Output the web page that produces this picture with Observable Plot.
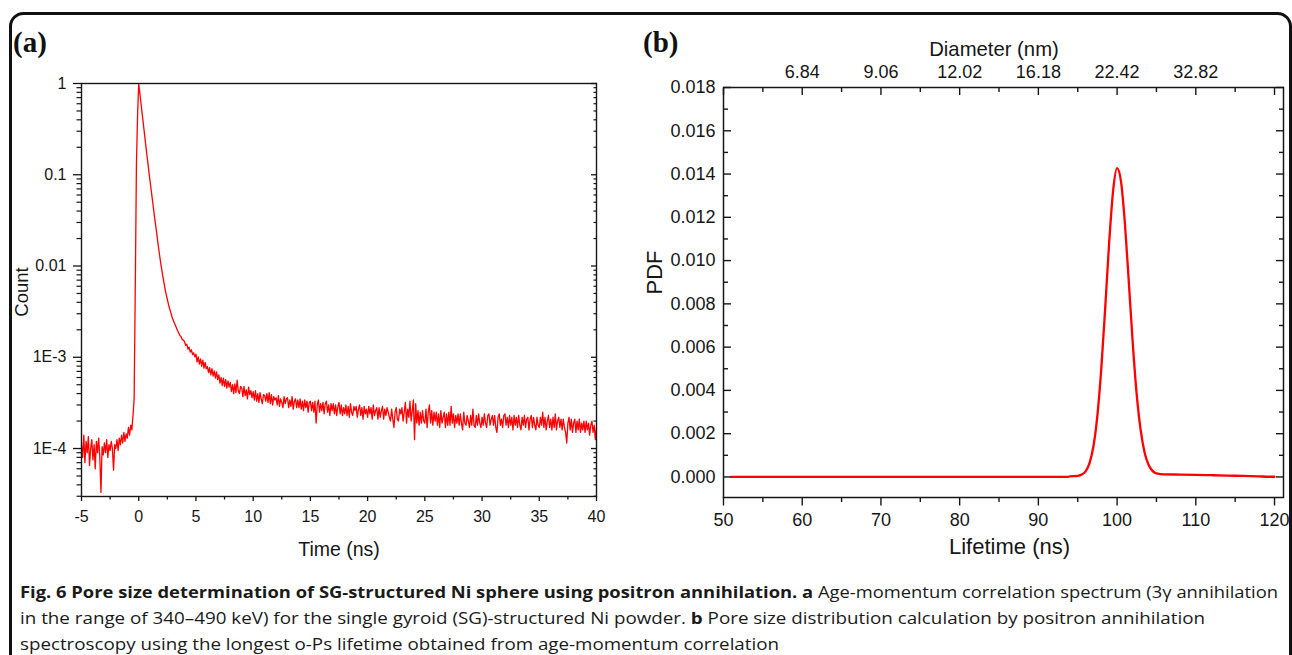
<!DOCTYPE html>
<html>
<head>
<meta charset="utf-8">
<script src="https://cdn.jsdelivr.net/npm/d3@7"></script>
<script src="https://cdn.jsdelivr.net/npm/@observablehq/plot@0.6"></script>
<style>
  html, body { margin: 0; padding: 0; background: #fff; }
  #page { position: relative; width: 1292px; height: 655px; overflow: hidden; background: #fff; }
  #overlay { position: absolute; left: 0; top: 0; }
  #panelA { position: absolute; left: 0; top: 0; }
  #panelB { position: absolute; left: 620px; top: 0; }
</style>
</head>
<body>
<div id="page">
  <svg id="overlay" width="1292" height="655"></svg>
  <div id="panelA"></div>
  <div id="panelB"></div>
</div>
<script>
// ---------------- Panel (a): age-momentum correlation spectrum ----------------
const timeNs = [
 -5.0,-4.9,-4.8,-4.7,-4.6,-4.5,-4.4,-4.3,-4.2,-4.1,
 -4.0,-3.9,-3.8,-3.7,-3.6,-3.5,-3.4,-3.3,-3.2,-3.1,
 -3.0,-2.9,-2.8,-2.7,-2.6,-2.5,-2.4,-2.3,-2.2,-2.1,
 -2.0,-1.9,-1.8,-1.7,-1.6,-1.5,-1.4,-1.3,-1.2,-1.1,
 -1.0,-0.9,-0.8,-0.7,-0.6,-0.5,-0.4,-0.3,-0.2,-0.1,
 0.0,0.1,0.2,0.3,0.4,0.5,0.6,0.7,0.8,0.9,
 1.0,1.1,1.2,1.3,1.4,1.5,1.6,1.7,1.8,1.9,
 2.0,2.1,2.2,2.3,2.4,2.5,2.6,2.7,2.8,2.9,
 3.0,3.1,3.2,3.3,3.4,3.5,3.6,3.7,3.8,3.9,
 4.0,4.1,4.2,4.3,4.4,4.5,4.6,4.7,4.8,4.9,
 5.0,5.1,5.2,5.3,5.4,5.5,5.6,5.7,5.8,5.9,
 6.0,6.1,6.2,6.3,6.4,6.5,6.6,6.7,6.8,6.9,
 7.0,7.1,7.2,7.3,7.4,7.5,7.6,7.7,7.8,7.9,
 8.0,8.1,8.2,8.3,8.4,8.5,8.6,8.7,8.8,8.9,
 9.0,9.1,9.2,9.3,9.4,9.5,9.6,9.7,9.8,9.9,
 10.0,10.1,10.2,10.3,10.4,10.5,10.6,10.7,10.8,10.9,
 11.0,11.1,11.2,11.3,11.4,11.5,11.6,11.7,11.8,11.9,
 12.0,12.1,12.2,12.3,12.4,12.5,12.6,12.7,12.8,12.9,
 13.0,13.1,13.2,13.3,13.4,13.5,13.6,13.7,13.8,13.9,
 14.0,14.1,14.2,14.3,14.4,14.5,14.6,14.7,14.8,14.9,
 15.0,15.1,15.2,15.3,15.4,15.5,15.6,15.7,15.8,15.9,
 16.0,16.1,16.2,16.3,16.4,16.5,16.6,16.7,16.8,16.9,
 17.0,17.1,17.2,17.3,17.4,17.5,17.6,17.7,17.8,17.9,
 18.0,18.1,18.2,18.3,18.4,18.5,18.6,18.7,18.8,18.9,
 19.0,19.1,19.2,19.3,19.4,19.5,19.6,19.7,19.8,19.9,
 20.0,20.1,20.2,20.3,20.4,20.5,20.6,20.7,20.8,20.9,
 21.0,21.1,21.2,21.3,21.4,21.5,21.6,21.7,21.8,21.9,
 22.0,22.1,22.2,22.3,22.4,22.5,22.6,22.7,22.8,22.9,
 23.0,23.1,23.2,23.3,23.4,23.5,23.6,23.7,23.8,23.9,
 24.0,24.1,24.2,24.3,24.4,24.5,24.6,24.7,24.8,24.9,
 25.0,25.1,25.2,25.3,25.4,25.5,25.6,25.7,25.8,25.9,
 26.0,26.1,26.2,26.3,26.4,26.5,26.6,26.7,26.8,26.9,
 27.0,27.1,27.2,27.3,27.4,27.5,27.6,27.7,27.8,27.9,
 28.0,28.1,28.2,28.3,28.4,28.5,28.6,28.7,28.8,28.9,
 29.0,29.1,29.2,29.3,29.4,29.5,29.6,29.7,29.8,29.9,
 30.0,30.1,30.2,30.3,30.4,30.5,30.6,30.7,30.8,30.9,
 31.0,31.1,31.2,31.3,31.4,31.5,31.6,31.7,31.8,31.9,
 32.0,32.1,32.2,32.3,32.4,32.5,32.6,32.7,32.8,32.9,
 33.0,33.1,33.2,33.3,33.4,33.5,33.6,33.7,33.8,33.9,
 34.0,34.1,34.2,34.3,34.4,34.5,34.6,34.7,34.8,34.9,
 35.0,35.1,35.2,35.3,35.4,35.5,35.6,35.7,35.8,35.9,
 36.0,36.1,36.2,36.3,36.4,36.5,36.6,36.7,36.8,36.9,
 37.0,37.1,37.2,37.3,37.4,37.5,37.6,37.7,37.8,37.9,
 38.0,38.1,38.2,38.3,38.4,38.5,38.6,38.7,38.8,38.9,
 39.0,39.1,39.2,39.3,39.4,39.5,39.6,39.7,39.8,39.9,
 40.0
];
// counts in units of 1E-4 (peak normalised to 1 = 10000)
const countPer1e4 = [
 1.1,0.8,1.4,0.7,1.2,0.9,1.35,0.65,1.0,1.25,
 0.75,1.1,0.6,1.2,0.9,1.3,0.8,0.33,1.05,0.85,
 1.15,0.9,1.25,0.8,1.1,0.95,1.2,1.0,0.58,1.1,
 1.0,1.25,0.95,1.3,1.1,1.4,1.15,1.5,1.2,1.45,
 1.3,1.7,1.4,1.8,1.6,2.3,3.5,60,1300,4500,
 10000,7760,6030,4680,3630,2820,2190,1700,1350,1050,
 832,661,525,417,331,269,214,170,138,112,
 93,78,66,56,49,43,38,34,31,28,
 25.7,24,22.4,20.9,19.5,18.4,17.3,16.8,15.7,15.4,
 14.9,13.5,13.9,12.3,12.9,11.4,12.1,10.7,11.2,10.1,
 10.8,8.9,10.1,8.4,9.6,8.0,9.3,7.6,8.8,7.5,
 7.9,6.8,7.7,6.4,7.5,6.2,7.1,5.9,6.9,5.7,
 6.4,5.2,6.0,4.9,5.9,4.8,5.7,4.6,5.5,4.7,
 5.3,4.2,5.0,4.0,5.1,4.1,5.6,4.3,4.0,4.8,
 4.6,3.7,4.8,3.8,4.4,3.5,4.7,3.9,4.3,3.6,
 4.2,3.4,4.3,3.3,4.0,3.2,4.1,3.5,3.1,3.9,
 3.8,3.3,4.0,3.2,4.1,3.1,3.9,3.0,3.7,3.4,
 3.6,3.0,3.8,2.9,3.5,3.2,2.8,3.7,3.1,3.5,
 3.6,2.8,3.4,2.9,3.7,2.7,3.3,3.5,2.8,3.4,
 2.8,3.5,2.7,3.3,2.6,3.4,2.8,3.3,2.5,3.2,
 3.3,2.6,3.2,2.5,3.3,1.9,3.0,3.4,2.5,3.1,
 2.6,3.2,2.4,3.1,3.3,2.5,3.0,2.3,3.1,2.6,
 3.1,2.4,3.0,2.3,2.9,3.2,2.4,3.0,2.3,2.8,
 2.4,3.0,2.3,2.9,2.2,3.1,2.5,2.3,2.9,2.6,
 2.9,2.2,2.7,3.0,2.3,2.8,2.1,2.9,2.4,2.7,
 2.2,2.9,2.4,2.8,2.1,3.0,2.3,2.6,2.8,2.1,
 2.8,2.2,2.6,2.9,2.1,2.7,2.3,2.8,2.5,2.2,
 2.0,2.7,2.1,1.7,2.5,2.8,2.1,2.0,2.7,2.4,
 2.8,2.0,2.5,3.2,1.9,2.7,2.2,3.3,2.0,2.6,
 3.4,1.25,3.1,1.9,2.6,1.8,2.5,1.9,2.6,2.0,
 1.9,2.7,1.7,2.5,3.0,1.9,2.6,1.8,2.5,2.0,
 2.5,1.8,2.4,1.7,2.6,1.9,2.2,2.5,1.7,2.4,
 1.8,2.5,1.8,2.9,1.9,2.4,1.7,2.3,1.9,2.4,
 1.8,2.4,1.9,1.6,2.5,1.9,1.8,2.3,2.0,1.7,
 2.3,1.8,2.7,1.8,1.7,2.3,1.8,2.4,1.9,1.7,
 2.2,1.8,2.4,1.9,1.7,2.3,2.4,1.8,2.1,2.3,
 1.8,2.3,1.7,1.5,2.2,2.4,1.8,2.1,1.7,2.3,
 2.4,1.8,2.2,1.7,2.3,1.8,2.2,1.6,2.3,1.8,
 2.2,1.7,2.3,1.8,1.6,2.2,1.8,2.3,1.7,2.1,
 2.2,1.6,2.1,2.3,1.7,2.2,1.8,1.6,2.2,1.8,
 1.7,2.2,1.8,2.5,1.7,2.2,1.6,2.0,2.3,1.7,
 2.1,1.6,2.2,1.7,2.4,1.6,2.0,2.2,1.7,2.1,
 1.6,2.1,1.7,1.5,1.15,1.9,2.2,1.6,2.1,1.5,
 1.9,2.1,1.5,2.0,1.6,2.1,1.5,1.9,1.6,2.0,
 1.5,2.0,1.6,1.9,1.4,1.8,2.0,1.5,1.8,1.25,
 1.7
];
const timeTicks = [-5, 0, 5, 10, 15, 20, 25, 30, 35, 40];
const timeMinorTicks = [-2.5, 2.5, 7.5, 12.5, 17.5, 22.5, 27.5, 32.5, 37.5];
const countTickValues = [1, 0.1, 0.01, 0.001, 0.0001];
const countTickLabels = ["1", "0.1", "0.01", "1E-3", "1E-4"];
const countMinorTicks = [
  0.9, 0.8, 0.7, 0.6, 0.5, 0.4, 0.3, 0.2,
  0.09, 0.08, 0.07, 0.06, 0.05, 0.04, 0.03, 0.02,
  0.009, 0.008, 0.007, 0.006, 0.005, 0.004, 0.003, 0.002,
  0.0009, 0.0008, 0.0007, 0.0006, 0.0005, 0.0004, 0.0003, 0.0002,
  0.00009, 0.00008, 0.00007, 0.00006, 0.00005, 0.00004, 0.00003
];

// ---------------- Panel (b): pore size distribution ----------------
const lifetimeNs = [51, 60, 70, 80, 90, 93.8, 94, 95, 95.5, 96, 96.5, 97, 97.5, 98, 98.5, 99, 99.5, 100,
  100.5, 101, 101.5, 102, 102.5, 103, 103.5, 104, 104.5, 105, 106, 108, 110, 112, 114, 116, 118, 119.3, 120];
const pdfValues = [0, 0, 0, 0, 0, 0, 0.00003, 0.00005, 0.00011, 0.00026, 0.00064, 0.00143, 0.00285, 0.00504, 0.00787, 0.01087, 0.01325, 0.01427,
  0.01365, 0.01168, 0.00895, 0.00613, 0.00378, 0.00215, 0.00112, 0.00056, 0.00028, 0.00017, 0.00012, 0.00011, 0.0001, 0.00008, 0.00006, 0.00005, 0.00003, 0.00001, 0.00001];
const lifetimeTicks = [50, 60, 70, 80, 90, 100, 110, 120];
const lifetimeMinorTicks = [55, 65, 75, 85, 95, 105, 115];
const diameterTickPositions = [60, 70, 80, 90, 100, 110];
const diameterTickLabels = ["6.84", "9.06", "12.02", "16.18", "22.42", "32.82"];
const pdfTicks = [0, 0.002, 0.004, 0.006, 0.008, 0.010, 0.012, 0.014, 0.016, 0.018];
const pdfTickLabels = ["0.000", "0.002", "0.004", "0.006", "0.008", "0.010", "0.012", "0.014", "0.016", "0.018"];
const pdfMinorTicks = [0.001, 0.003, 0.005, 0.007, 0.009, 0.011, 0.013, 0.015, 0.017];

// ---------------- Texts ----------------
const panelLabels = ["(a)", "(b)"];
const captionBold = "Fig. 6 Pore size determination of SG-structured Ni sphere using positron annihilation.";
const captionLine1Rest = " Age-momentum correlation spectrum (3γ annihilation";
const captionLine2a = "in the range of 340–490 keV) for the single gyroid (SG)-structured Ni powder. ";
const captionLine2b = " Pore size distribution calculation by positron annihilation";
const captionLine3 = "spectroscopy using the longest o-Ps lifetime obtained from age-momentum correlation";

// ---------------- Build ----------------
const axisFont = "'Liberation Sans', Arial, Helvetica, sans-serif";
const ink = "#161616";
const red = "#ff0000";

const dataA = timeNs.map((t, i) => ({t, c: countPer1e4[i] * 1e-4}));
const countLabelMap = new Map(countTickValues.map((v, i) => [v, countTickLabels[i]]));
const none = () => "";

const chartA = Plot.plot({
  width: 620, height: 570,
  marginLeft: 81, marginRight: 24, marginTop: 83, marginBottom: 74,
  style: {fontFamily: axisFont, fontSize: "16px", color: ink, background: "transparent", overflow: "visible"},
  x: {domain: [-5, 40]},
  y: {type: "log", domain: [2.98e-5, 1]},
  marks: [
    Plot.line(dataA, {x: "t", y: "c", stroke: red, strokeWidth: 1.3}),
    Plot.frame({stroke: ink, strokeWidth: 1.4}),
    Plot.axisX({ticks: timeTicks, tickFormat: d => String(d), tickSize: 5, tickPadding: 9, label: null, strokeWidth: 1.3, fontSize: 16}),
    Plot.axisX({ticks: timeMinorTicks, tickFormat: none, tickSize: 3.5, label: null, strokeWidth: 1.3}),
    Plot.axisY({ticks: countTickValues, tickFormat: d => countLabelMap.get(d), tickSize: 8, tickPadding: 7, label: null, strokeWidth: 1.3, fontSize: 16}),
    Plot.axisY({ticks: countMinorTicks, tickFormat: none, tickSize: 4.5, label: null, strokeWidth: 1.2}),
    Plot.axisY({anchor: "right", ticks: countTickValues, tickFormat: none, tickSize: 6, dx: -6, label: null, strokeWidth: 1.3}),
    Plot.axisY({anchor: "right", ticks: countMinorTicks, tickFormat: none, tickSize: 3.5, dx: -3.5, label: null, strokeWidth: 1.2}),
    Plot.text(["Time (ns)"], {frameAnchor: "bottom", dy: 53, fontSize: 19.5, lineAnchor: "middle", textAnchor: "middle", fill: ink}),
    Plot.text(["Count"], {frameAnchor: "left", dx: -59, dy: 2, rotate: -90, fontSize: 18.5, lineAnchor: "middle", textAnchor: "middle", fill: ink})
  ]
});
document.getElementById("panelA").appendChild(chartA);

const dataB = lifetimeNs.map((x, i) => ({lifetime: x, pdf: pdfValues[i]}));
const diameterLabelMap = new Map(diameterTickPositions.map((v, i) => [v, diameterTickLabels[i]]));
const pdfLabelMap = new Map(pdfTicks.map((v, i) => [v, pdfTickLabels[i]]));

const chartB = Plot.plot({
  width: 672, height: 570,
  marginLeft: 103, marginRight: 9, marginTop: 87, marginBottom: 73,
  style: {fontFamily: axisFont, fontSize: "18px", color: ink, background: "transparent", overflow: "visible"},
  x: {domain: [50, 121.14]},
  y: {domain: [-0.00095, 0.018]},
  marks: [
    Plot.line(dataB, {x: "lifetime", y: "pdf", stroke: red, strokeWidth: 2.3, curve: "monotone-x"}),
    Plot.frame({stroke: ink, strokeWidth: 1.5}),
    Plot.axisX({ticks: lifetimeTicks, tickFormat: d => String(d), tickSize: 8.5, tickPadding: 7, label: null, strokeWidth: 1.4}),
    Plot.axisX({ticks: lifetimeMinorTicks, tickFormat: none, tickSize: 5, label: null, strokeWidth: 1.4}),
    Plot.axisX({anchor: "top", ticks: lifetimeTicks, tickFormat: none, tickSize: 7, dy: 7, label: null, strokeWidth: 1.4}),
    Plot.axisX({anchor: "top", ticks: lifetimeMinorTicks, tickFormat: none, tickSize: 4, dy: 4, label: null, strokeWidth: 1.4}),
    Plot.axisX({anchor: "top", ticks: diameterTickPositions, tickFormat: d => diameterLabelMap.get(d), tickSize: 0, tickPadding: 10, label: null}),
    Plot.axisY({ticks: pdfTicks, tickFormat: none, tickSize: 8, dx: 8, label: null, strokeWidth: 1.4}),
    Plot.axisY({ticks: pdfMinorTicks, tickFormat: none, tickSize: 5, dx: 5, label: null, strokeWidth: 1.4}),
    Plot.axisY({ticks: pdfTicks, tickFormat: d => pdfLabelMap.get(d), tickSize: 0, tickPadding: 8, label: null}),
    Plot.axisY({anchor: "right", ticks: pdfTicks, tickFormat: none, tickSize: 8, dx: -8, label: null, strokeWidth: 1.4}),
    Plot.axisY({anchor: "right", ticks: pdfMinorTicks, tickFormat: none, tickSize: 5, dx: -5, label: null, strokeWidth: 1.4}),
    Plot.text(["Lifetime (ns)"], {frameAnchor: "bottom", dy: 49, dx: 6, fontSize: 22, lineAnchor: "middle", textAnchor: "middle", fill: ink}),
    Plot.text(["Diameter (nm)"], {frameAnchor: "top", dy: -38.5, dx: -9.5, fontSize: 20.3, lineAnchor: "middle", textAnchor: "middle", fill: ink}),
    Plot.text(["PDF"], {frameAnchor: "left", dx: -69, dy: -20, rotate: -90, fontSize: 22, lineAnchor: "middle", textAnchor: "middle", fill: ink})
  ]
});
document.getElementById("panelB").appendChild(chartB);

// ---------------- Overlay: rounded frame, panel letters, caption ----------------
const svg = d3.select("#overlay");
svg.append("rect")
  .attr("x", 10.5).attr("y", 13.5).attr("width", 1280).attr("height", 720)
  .attr("rx", 13).attr("ry", 13)
  .attr("fill", "none").attr("stroke", "#111").attr("stroke-width", 3);

const letterPos = [[13, 52], [643, 52]];
panelLabels.forEach((lab, i) => {
  svg.append("text").attr("x", letterPos[i][0]).attr("y", letterPos[i][1])
    .attr("font-family", "'Liberation Serif', 'Times New Roman', serif")
    .attr("font-weight", "bold").attr("font-size", 29).attr("fill", "#111")
    .text(lab);
});

const capFont = "'Open Sans', 'Noto Sans', sans-serif";
function capLine(y, len) {
  return svg.append("text").attr("x", 20).attr("y", y)
    .attr("font-family", capFont).attr("font-size", 16.5).attr("fill", "#1a1a1a")
    .attr("textLength", len).attr("lengthAdjust", "spacingAndGlyphs");
}
const l1 = capLine(598, 1258);
l1.append("tspan").attr("font-weight", "bold").text(captionBold + " a");
l1.append("tspan").text(captionLine1Rest);
const l2 = capLine(624, 1185);
l2.append("tspan").text(captionLine2a);
l2.append("tspan").attr("font-weight", "bold").text("b");
l2.append("tspan").text(captionLine2b);
const l3 = capLine(650, 759);
l3.text(captionLine3);
</script>
</body>
</html>
